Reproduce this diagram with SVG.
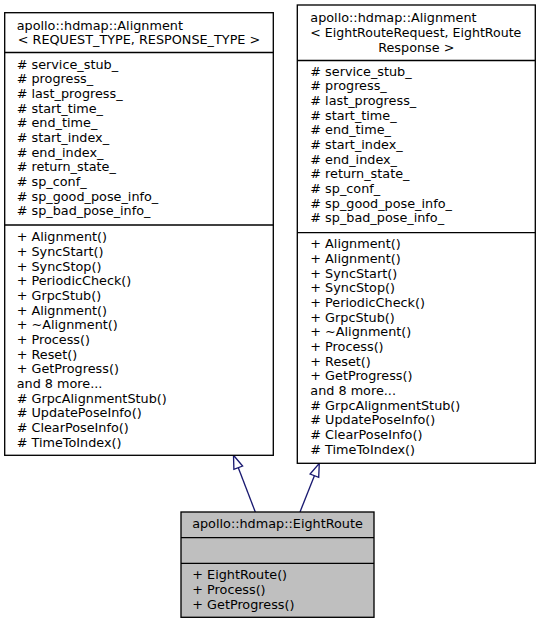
<svg xmlns="http://www.w3.org/2000/svg" width="541" height="624" viewBox="0 0 541 624">
<style>
  .box { fill: #ffffff; stroke: #000000; stroke-width: 1.33; }
  .cur { fill: #bfbfbf; stroke: #000000; stroke-width: 1.33; }
  .div { stroke: #000000; stroke-width: 1.33; fill: none; }
  text { font-family: "DejaVu Sans", "Liberation Sans", sans-serif; font-size: 12.8px; fill: #000000; }
  .mid { text-anchor: middle; }
  .edge { stroke: #191970; stroke-width: 1.33; fill: none; }
  .head { stroke: #191970; stroke-width: 1.33; fill: none; }
</style>
<rect x="0" y="0" width="541" height="624" fill="#ffffff"/>
<g id="connectors">
  <path class="edge" d="M255.3,512 L238.3,467.7"/>
  <polygon class="head" points="233.5,455.3 242.6,466.0 233.9,469.4"/>
  <path class="edge" d="M300,512 L314.4,475.7"/>
  <polygon class="head" points="319.3,463.3 318.7,477.4 310.1,474.0"/>
</g>
<g id="node_alignment_template">
  <rect class="box" x="4.7" y="12.7" width="268.6" height="442.6"/>
  <line class="div" x1="4.7" y1="52.5" x2="273.3" y2="52.5"/>
  <line class="div" x1="4.7" y1="225" x2="273.3" y2="225"/>
  <text x="16.7" y="29.5">apollo::hdmap::Alignment</text>
  <text class="mid" x="139" y="44.2">&lt; REQUEST_TYPE, RESPONSE_TYPE &gt;</text>
  <text x="16.7" y="68.5"># service_stub_</text>
  <text x="16.7" y="83.2"># progress_</text>
  <text x="16.7" y="97.8"># last_progress_</text>
  <text x="16.7" y="112.5"># start_time_</text>
  <text x="16.7" y="127.2"># end_time_</text>
  <text x="16.7" y="141.8"># start_index_</text>
  <text x="16.7" y="156.5"># end_index_</text>
  <text x="16.7" y="171.2"># return_state_</text>
  <text x="16.7" y="185.9"># sp_conf_</text>
  <text x="16.7" y="200.5"># sp_good_pose_info_</text>
  <text x="16.7" y="215.2"># sp_bad_pose_info_</text>
  <text x="16.7" y="241.2">+ Alignment()</text>
  <text x="16.7" y="255.9">+ SyncStart()</text>
  <text x="16.7" y="270.5">+ SyncStop()</text>
  <text x="16.7" y="285.2">+ PeriodicCheck()</text>
  <text x="16.7" y="299.9">+ GrpcStub()</text>
  <text x="16.7" y="314.5">+ Alignment()</text>
  <text x="16.7" y="329.2">+ ~Alignment()</text>
  <text x="16.7" y="343.9">+ Process()</text>
  <text x="16.7" y="358.6">+ Reset()</text>
  <text x="16.7" y="373.2">+ GetProgress()</text>
  <text x="16.7" y="387.9">and 8 more...</text>
  <text x="16.7" y="402.6"># GrpcAlignmentStub()</text>
  <text x="16.7" y="417.2"># UpdatePoseInfo()</text>
  <text x="16.7" y="431.9"># ClearPoseInfo()</text>
  <text x="16.7" y="446.6"># TimeToIndex()</text>
</g>
<g id="node_alignment_eightroute">
  <rect class="box" x="297.3" y="5" width="238" height="458.3"/>
  <line class="div" x1="297.3" y1="60.5" x2="535.3" y2="60.5"/>
  <line class="div" x1="297.3" y1="232.7" x2="535.3" y2="232.7"/>
  <text x="310.3" y="22.3">apollo::hdmap::Alignment</text>
  <text x="310.3" y="37" textLength="211" lengthAdjust="spacingAndGlyphs">&lt; EightRouteRequest, EightRoute</text>
  <text class="mid" x="416.3" y="51.7">Response &gt;</text>
  <text x="310.3" y="75.7"># service_stub_</text>
  <text x="310.3" y="90.4"># progress_</text>
  <text x="310.3" y="105"># last_progress_</text>
  <text x="310.3" y="119.7"># start_time_</text>
  <text x="310.3" y="134.4"># end_time_</text>
  <text x="310.3" y="149"># start_index_</text>
  <text x="310.3" y="163.7"># end_index_</text>
  <text x="310.3" y="178.4"># return_state_</text>
  <text x="310.3" y="193.1"># sp_conf_</text>
  <text x="310.3" y="207.7"># sp_good_pose_info_</text>
  <text x="310.3" y="222.2"># sp_bad_pose_info_</text>
  <text x="310.3" y="248.2">+ Alignment()</text>
  <text x="310.3" y="262.9">+ Alignment()</text>
  <text x="310.3" y="277.5">+ SyncStart()</text>
  <text x="310.3" y="292.2">+ SyncStop()</text>
  <text x="310.3" y="306.9">+ PeriodicCheck()</text>
  <text x="310.3" y="321.5">+ GrpcStub()</text>
  <text x="310.3" y="336.2">+ ~Alignment()</text>
  <text x="310.3" y="350.9">+ Process()</text>
  <text x="310.3" y="365.6">+ Reset()</text>
  <text x="310.3" y="380.2">+ GetProgress()</text>
  <text x="310.3" y="394.9">and 8 more...</text>
  <text x="310.3" y="409.6"># GrpcAlignmentStub()</text>
  <text x="310.3" y="424.2"># UpdatePoseInfo()</text>
  <text x="310.3" y="438.9"># ClearPoseInfo()</text>
  <text x="310.3" y="453.6"># TimeToIndex()</text>
</g>
<g id="node_eightroute">
  <rect class="cur" x="181" y="512" width="193" height="105.3"/>
  <line class="div" x1="181" y1="537.7" x2="374" y2="537.7"/>
  <line class="div" x1="181" y1="563.3" x2="374" y2="563.3"/>
  <text class="mid" x="277.5" y="528.3">apollo::hdmap::EightRoute</text>
  <text x="192.3" y="579.3">+ EightRoute()</text>
  <text x="192.3" y="594">+ Process()</text>
  <text x="192.3" y="608.7">+ GetProgress()</text>
</g>
</svg>
